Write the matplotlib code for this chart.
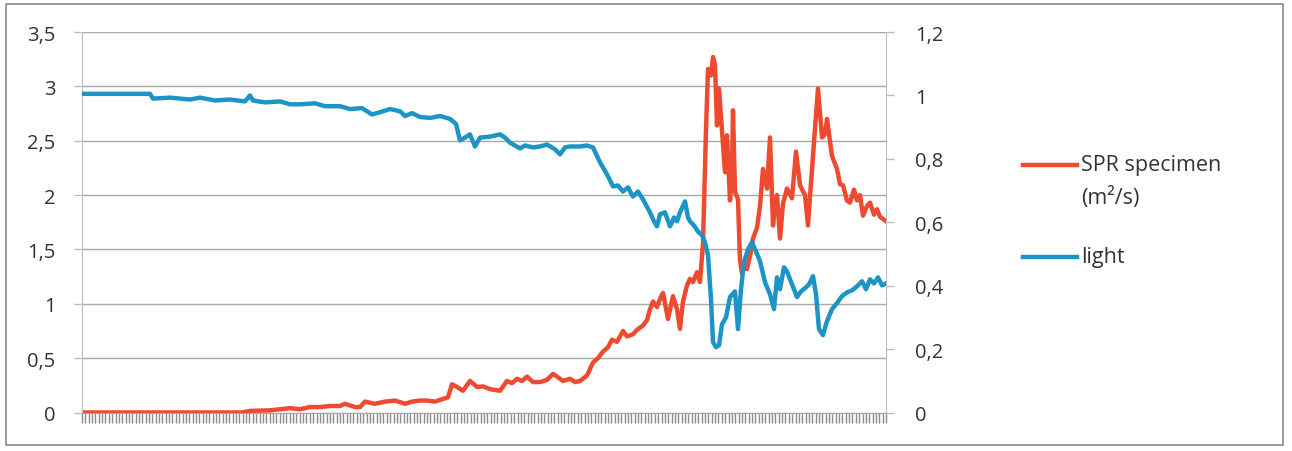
import numpy as np
import matplotlib
matplotlib.use("Agg")
import matplotlib.pyplot as plt
from matplotlib.lines import Line2D
from matplotlib.patches import Rectangle

plt.rcParams['font.family'] = ['Open Sans', 'DejaVu Sans']

# ── data (x = sample position along the category axis) ──
spr_x = [0, 100, 160, 168, 188, 208, 218, 228, 238, 248, 258, 263, 273, 278, 283,
         293, 303, 313, 323, 330, 338, 345, 353, 361, 366, 370, 375, 381, 388, 395,
         401, 408, 418, 425, 430, 435, 440, 445, 451, 458, 465, 471, 475, 481, 488,
         493, 498, 505, 511, 516, 521, 526, 530, 535, 541, 545, 551, 555, 561, 565,
         568, 571, 575, 578, 581, 586, 591, 595, 598, 601, 605, 608, 611, 615, 618,
         621, 624, 626, 629, 631, 633, 635, 637, 640, 643, 645, 648, 650, 651, 653,
         656, 658, 660, 663, 665, 668, 671, 675, 678, 681, 685, 688, 691, 693, 695,
         698, 701, 705, 710, 714, 718, 723, 726, 730, 733, 736, 740, 743, 745, 750,
         755, 758, 761, 765, 768, 772, 775, 778, 781, 785, 788, 792, 795, 798, 804]
spr_y = [0.0, 0.0, 0.0, 0.015, 0.02, 0.04, 0.03, 0.05, 0.05, 0.06, 0.06, 0.08, 0.05, 0.05, 0.1,
         0.08, 0.1, 0.11, 0.08, 0.1, 0.11, 0.11, 0.1, 0.124, 0.14, 0.26, 0.235, 0.2, 0.29, 0.235,
         0.24, 0.215, 0.2, 0.29, 0.27, 0.31, 0.29, 0.33, 0.28, 0.28, 0.3, 0.355, 0.33, 0.29, 0.31,
         0.28, 0.29, 0.34, 0.46, 0.5, 0.56, 0.6, 0.67, 0.65, 0.75, 0.7, 0.72, 0.76, 0.8, 0.85,
         0.95, 1.02, 0.97, 1.045, 1.1, 0.86, 1.07, 0.95, 0.77, 1.02, 1.17, 1.23, 1.2, 1.29, 1.2,
         1.55, 2.6, 3.16, 3.1, 3.27, 3.2, 2.64, 2.98, 2.6, 2.21, 2.55, 1.95, 2.2, 2.78, 2.03,
         1.96, 1.4, 1.28, 1.35, 1.32, 1.44, 1.6, 1.7, 1.9, 2.24, 2.06, 2.53, 1.72, 1.9, 2.0,
         1.6, 1.92, 2.06, 1.97, 2.4, 2.09, 2.0, 1.72, 2.24, 2.61, 2.98, 2.53, 2.56, 2.7, 2.36,
         2.24, 2.1, 2.09, 1.95, 1.93, 2.05, 1.95, 2.0, 1.81, 1.9, 1.93, 1.82, 1.87, 1.8, 1.76]

light_x = [0, 68, 71, 88, 108, 118, 133, 148, 163, 168, 171, 183, 198, 208, 218, 233, 243,
           258, 268, 280, 290, 298, 308, 318, 323, 330, 338, 348, 358, 368, 374, 378, 383,
           388, 393, 398, 408, 418, 423, 428, 438, 443, 451, 458, 465, 473, 478, 483, 488,
           498, 505, 511, 518, 525, 531, 536, 541, 546, 551, 556, 561, 568, 572, 575, 578,
           583, 588, 592, 595, 598, 603, 606, 608, 612, 616, 620, 623, 626, 629, 631, 634,
           637, 640, 644, 648, 653, 656, 659, 662, 666, 670, 674, 678, 683, 688, 692, 695,
           698, 702, 705, 708, 712, 715, 719, 723, 727, 731, 734, 737, 741, 745, 750, 755,
           760, 765, 770, 775, 780, 784, 788, 792, 796, 800, 804]
light_y = [1.005, 1.005, 0.99, 0.993, 0.987, 0.993, 0.984, 0.987, 0.981, 1.0, 0.984, 0.978,
           0.981, 0.972, 0.972, 0.975, 0.966, 0.966, 0.957, 0.96, 0.94, 0.947, 0.957, 0.95,
           0.935, 0.944, 0.932, 0.929, 0.935, 0.926, 0.91, 0.858, 0.867, 0.877, 0.839, 0.867,
           0.87, 0.877, 0.867, 0.851, 0.833, 0.842, 0.836, 0.839, 0.845, 0.83, 0.814, 0.836,
           0.839, 0.839, 0.842, 0.836, 0.789, 0.751, 0.713, 0.716, 0.697, 0.71, 0.681, 0.697,
           0.672, 0.631, 0.603, 0.587, 0.625, 0.631, 0.587, 0.615, 0.603, 0.631, 0.666, 0.615,
           0.603, 0.59, 0.571, 0.559, 0.537, 0.496, 0.357, 0.222, 0.206, 0.212, 0.278, 0.3,
           0.364, 0.382, 0.263, 0.389, 0.474, 0.515, 0.537, 0.508, 0.477, 0.411, 0.373, 0.326,
           0.426, 0.389, 0.458, 0.445, 0.42, 0.389, 0.364, 0.382, 0.392, 0.404, 0.43, 0.373,
           0.263, 0.244, 0.288, 0.326, 0.345, 0.367, 0.379, 0.385, 0.398, 0.414, 0.389, 0.42,
           0.407, 0.426, 0.401, 0.407]

left_ticks = [0, 0.5, 1, 1.5, 2, 2.5, 3, 3.5]
left_labels = ['0', '0,5', '1', '1,5', '2', '2,5', '3', '3,5']
right_ticks = [0, 0.2, 0.4, 0.6, 0.8, 1.0, 1.2]
right_labels = ['0', '0,2', '0,4', '0,6', '0,8', '1', '1,2']

red = '#EE4A2F'
blue = '#1C95C6'
txt = '#333333'
grid_col = '#a8a8a8'
axis_col = '#bdbdbd'
lw_data = 3.2

# ── figure ──────────────────────────────────────────────────────────────────
fig = plt.figure(figsize=(12.92, 4.52), dpi=100, facecolor='white')
fig.add_artist(Rectangle((6 / 1292, 1 - 446 / 452), 1277 / 1292, 441 / 452,
                         transform=fig.transFigure, fill=False,
                         edgecolor='#8a8a8a', lw=1.2))

ax = fig.add_axes([82 / 1292, 38.5 / 452, 804 / 1292, 380.5 / 452])
ax.set_xlim(0, 804)
ax.set_ylim(0, 3.5)
ax.set_yticks(left_ticks)
ax.set_yticklabels(left_labels)
ax.yaxis.grid(True, color=grid_col, lw=1.0)
ax.set_axisbelow(True)
ax.plot(spr_x, spr_y, color=red, lw=lw_data, solid_joinstyle='round')

# dense category ticks along the bottom
ax.set_xticks(np.arange(0, 805, 3.35))
ax.set_xticklabels([])
ax.tick_params(axis='x', length=7, width=1.0, color='#8c8c8c', direction='out')
ax.tick_params(axis='y', length=6, width=1.0, color=axis_col, pad=13,
               labelsize=14.5, labelcolor=txt)
for s in ['top', 'right']:
    ax.spines[s].set_visible(False)
ax.spines['left'].set_color(axis_col)
ax.spines['bottom'].set_color(grid_col)

ax2 = ax.twinx()
ax2.set_ylim(0, 1.2)
ax2.set_yticks(right_ticks)
ax2.set_yticklabels(right_labels)
ax2.plot(light_x, light_y, color=blue, lw=lw_data, solid_joinstyle='round')
ax2.tick_params(axis='y', length=6, width=1.0, color=axis_col, pad=15,
                labelsize=14.5, labelcolor=txt)
for s in ['top', 'left', 'bottom']:
    ax2.spines[s].set_visible(False)
ax2.spines['right'].set_color(axis_col)

# ── legend (drawn by hand to match the two-line label) ───────────────────────
def fx(px):
    return px / 1292

def fy(py):
    return 1 - py / 452

fig.add_artist(Line2D([fx(1023), fx(1077)], [fy(166), fy(166)], color=red, lw=lw_data))
fig.text(fx(1081), fy(166), 'SPR specimen', fontsize=15.5, color=txt, va='center', ha='left')
fig.text(fx(1081), fy(198), '(m²/s)', fontsize=15.5, color=txt, va='center', ha='left')
fig.add_artist(Line2D([fx(1023), fx(1077)], [fy(258), fy(258)], color=blue, lw=lw_data))
fig.text(fx(1081), fy(258), 'light', fontsize=15.5, color=txt, va='center', ha='left')

fig.savefig('out.png', dpi=100, facecolor='white')
